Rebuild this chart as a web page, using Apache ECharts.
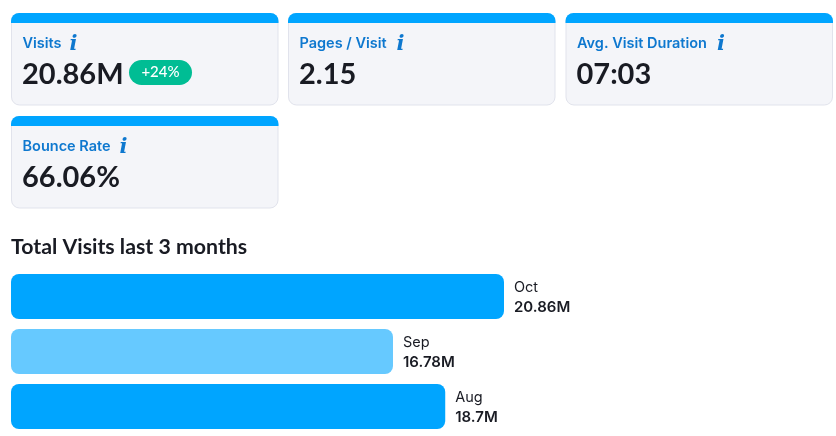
<!DOCTYPE html>
<html>
<head>
<meta charset="utf-8">
<style>html,body{margin:0;padding:0;background:#fff}#chart{width:836px;height:436px}</style>
<script src="https://cdn.jsdelivr.net/npm/echarts@6/dist/echarts.min.js"></script>
</head>
<body>
<div id="chart"></div>
<script>
// cards
var cardLabels = ['Visits', 'Pages / Visit', 'Avg. Visit Duration', 'Bounce Rate'];
var cardValues = ['20.86M', '2.15', '07:03', '66.06%'];
var cardBadge = '+24%';

// bars
var months = ['Oct', 'Sep', 'Aug'];
var visits = [20.86, 16.78, 18.7];
var visitLabels = ['20.86M', '16.78M', '18.7M'];
var barColors = ['#00a5ff', '#66c9ff', '#00a5ff'];

var chartTitle = 'Total Visits last 3 months';

var uiFont = 'Inter';
var headFont = 'Lato';
var iconOffsets = [62, 112, 155, 112];
var cardPos = [[11.5, 13.5], [288.5, 13.5], [566, 13.5], [11.5, 116.5]];

var graphics = [];
cardLabels.forEach(function (name, i) {
    var x = cardPos[i][0], y = cardPos[i][1];
    graphics.push({type: 'rect', shape: {x: x, y: y, width: 266.5, height: 91.5, r: 8},
        style: {fill: '#f4f5f9', stroke: '#e1e3ec', lineWidth: 1}});
    graphics.push({type: 'rect', shape: {x: x - 0.5, y: y - 0.5, width: 267.5, height: 10, r: [8, 8, 0, 0]},
        style: {fill: '#00a5ff'}});
    graphics.push({type: 'text', x: x + 11, y: y + 30.5,
        style: {text: name, font: '600 14.5px ' + uiFont, fill: '#0e78cf', textVerticalAlign: 'middle'}});
    // info glyph next to the label
    graphics.push({type: 'text', x: x + iconOffsets[i], y: y + 31,
        style: {text: 'i', font: 'italic bold 21px "DejaVu Serif"', fill: '#0e78cf', textAlign: 'center', textVerticalAlign: 'middle'}});
    graphics.push({type: 'text', x: x + 10.5, y: y + 61,
        style: {text: cardValues[i], font: 'bold 29px ' + headFont, fill: '#191b23', textVerticalAlign: 'middle'}});
});
graphics.push({type: 'rect', shape: {x: 129, y: 60, width: 63, height: 25, r: 12.5}, style: {fill: '#00bd94'}});
graphics.push({type: 'text', x: 160.5, y: 72.5,
    style: {text: cardBadge, font: '500 15px ' + headFont, fill: '#fff', textAlign: 'center', textVerticalAlign: 'middle'}});

var option = {
    animation: false,
    backgroundColor: '#fff',
    title: {
        text: chartTitle,
        left: 11,
        top: 237,
        padding: 0,
        textStyle: {fontFamily: headFont, fontSize: 21.3, fontWeight: 700, color: '#191b23'}
    },
    grid: {left: 11, top: 269, width: 493, height: 165, containLabel: false},
    // axis starts above zero: bar lengths in the picture fit min of about 2.74
    xAxis: {type: 'value', min: 2.74, max: 20.86, show: false},
    yAxis: {type: 'category', data: months, inverse: true, show: false},
    series: [{
        type: 'bar',
        barWidth: 45,
        data: visits.map(function (v, i) {
            return {value: v, itemStyle: {color: barColors[i]}};
        }),
        itemStyle: {borderRadius: 8},
        label: {
            show: true,
            position: 'right',
            distance: 10,
            offset: [0, 1],
            formatter: function (p) {
                return '{m|' + months[p.dataIndex] + '}\n{v|' + visitLabels[p.dataIndex] + '}';
            },
            rich: {
                m: {fontFamily: uiFont, fontSize: 14.5, color: '#191b23', lineHeight: 20},
                v: {fontFamily: uiFont, fontSize: 15, fontWeight: 600, color: '#191b23', lineHeight: 20}
            }
        }
    }],
    graphic: graphics
};

var chart = echarts.init(document.getElementById('chart'));
chart.setOption(option);
</script>
</body>
</html>
